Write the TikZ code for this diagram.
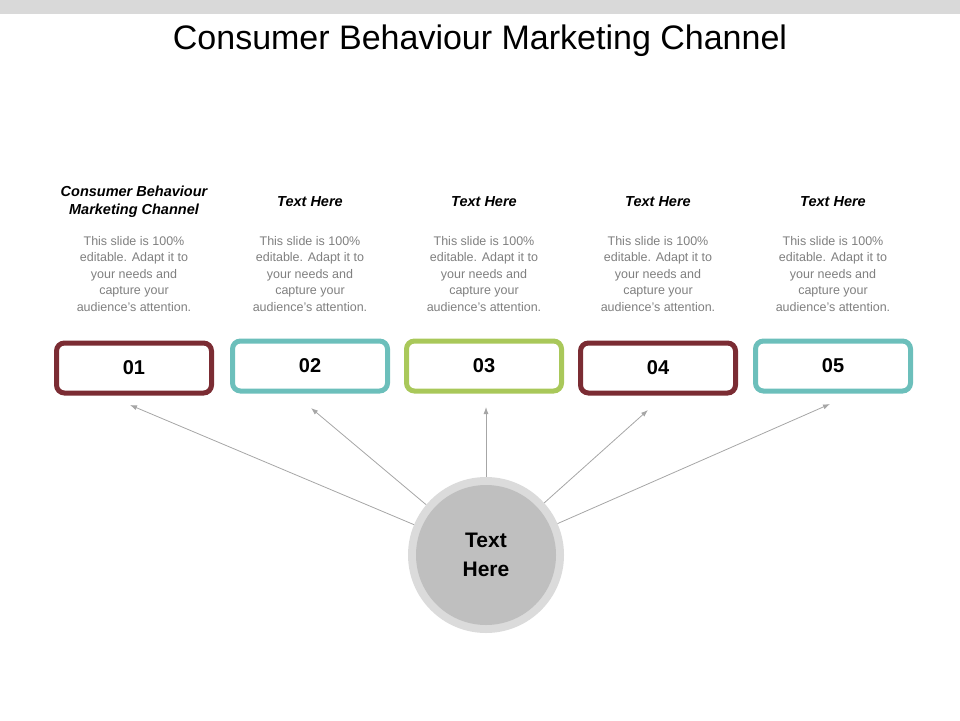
\documentclass[tikz,border=0pt]{standalone}
\usepackage{fontspec}
\setmainfont{Liberation Sans}
\usetikzlibrary{arrows.meta}
\definecolor{maroon}{HTML}{7B2C33}
\definecolor{teal2}{HTML}{6CBFBB}
\definecolor{green2}{HTML}{A9C85A}
\definecolor{bodygray}{HTML}{7F7F7F}
\begin{document}
\begin{tikzpicture}[x=1pt,y=-1pt,
  numbox/.style={draw=#1,line width=5pt,rounded corners=8pt,minimum width=155pt,minimum height=50pt,font=\bfseries\fontsize{20}{24}\selectfont,inner sep=0pt},
  head/.style={font=\bfseries\itshape\fontsize{14.5}{18}\selectfont,align=center},
  body/.style={font=\fontsize{12.5}{16.5}\selectfont,text=bodygray,align=center},
  conn/.style={draw=black!35,line width=0.8pt,-{Latex[length=7pt,width=5pt]}}]
\useasboundingbox (0,0) rectangle (960,720);
\fill[black!15] (0,0) rectangle (960,14);
\node (title) at (480,41) {\fontsize{34}{40}\selectfont Consumer Behaviour Marketing Channel};
\foreach \n/\x/\y/\c in {1/134/368/maroon,2/310/366/teal2,3/484/366/green2,4/658/368/maroon,5/833/366/teal2}{
  \node[numbox=\c] (b\n) at (\x,\y) {0\n};
  \node[body] (t\n) at (\x,274) {This slide is 100\%\\editable. Adapt it to\\your needs and\\capture your\\audience's attention.};
}
\node[head] (h1) at (134,202) {Consumer Behaviour\\Marketing Channel};
\foreach \n/\x in {2/310,3/484,4/658,5/833}{\node[head] (h\n) at (\x,202) {Text Here};}
\node[circle,fill=black!14,minimum size=156pt,inner sep=0pt] (c) at (486,555) {};
\node[circle,fill=black!25,minimum size=140pt,inner sep=0pt,font=\bfseries\fontsize{21}{29}\selectfont,align=center] (ci) at (486,555) {Text\\Here};
\coordinate (a1) at (130,405);
\coordinate (a2) at (311,408);
\coordinate (a3) at (486,407);
\coordinate (a4) at (648,410);
\coordinate (a5) at (830,404);
\foreach \n in {1,...,5}{\draw[conn] (c) -- (a\n);}
\end{tikzpicture}
\end{document}
